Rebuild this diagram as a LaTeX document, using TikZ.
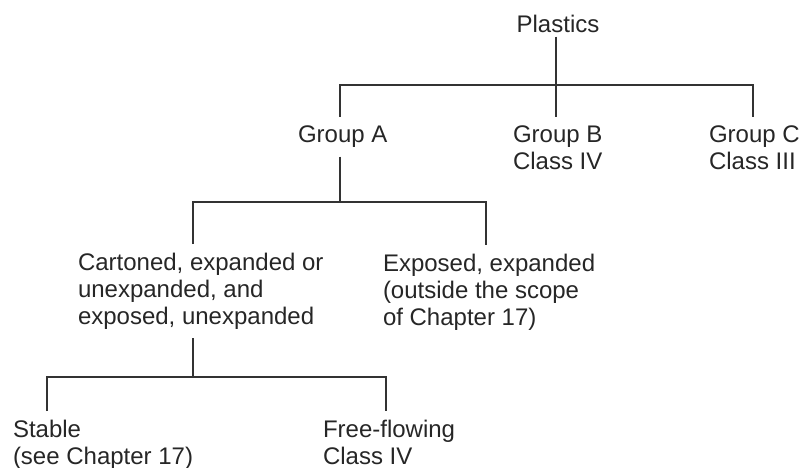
\documentclass[tikz,border=0pt]{standalone}
\usepackage{fontspec}
\setmainfont{Liberation Sans}
\begin{document}
\begin{tikzpicture}[x=1pt, y=-1pt,
    every node/.style={font=\fontsize{24}{27}\selectfont, text=black!85, align=left,
      inner sep=0pt, outer xsep=0pt, outer ysep=9pt},
    branch/.style={line width=1.6pt, draw=black!80}]
    \useasboundingbox (0,0) rectangle (811,468);

    % Nodes
    \node[anchor=north, outer ysep=4pt] (plastics) at (558,11) {Plastics};
    \node[anchor=north west] (groupA) at (298,117) {Group A};
    \node[anchor=north west] (groupB) at (513,117) {Group B\\Class IV};
    \node[anchor=north west] (groupC) at (709,117) {Group C\\Class III};
    \node[anchor=north west] (cartoned) at (78,244) {Cartoned, expanded or\\unexpanded, and\\exposed, unexpanded};
    \node[anchor=north west] (exposed) at (383,245) {Exposed, expanded\\(outside the scope\\of Chapter 17)};
    \node[anchor=north west] (stable) at (13,411) {Stable\\(see Chapter 17)};
    \node[anchor=north west] (freeflow) at (323,411) {Free-flowing\\Class IV};

    % Joints
    \coordinate (j0) at (556,85);
    \coordinate (jA) at (340,85);
    \coordinate (jC) at (753,85);
    \coordinate (j1) at (340,202);
    \coordinate (jCart) at (193,202);
    \coordinate (jExp) at (486,202);
    \coordinate (j2) at (193,377);
    \coordinate (jStab) at (47,377);
    \coordinate (jFree) at (386,377);

    % Branches
    \draw[branch] (j0 |- plastics.south) -- (j0);
    \draw[branch] (jA |- groupA.north) -- (jA) -- (jC) -- (jC |- groupC.north);
    \draw[branch] (j0) -- (j0 |- groupB.north);
    \draw[branch] (j1 |- groupA.south) -- (j1);
    \draw[branch] (jCart |- cartoned.north) -- (jCart) -- (jExp) -- (jExp |- exposed.north);
    \draw[branch] (j2 |- cartoned.south) -- (j2);
    \draw[branch] (jStab |- stable.north) -- (jStab) -- (jFree) -- (jFree |- freeflow.north);
\end{tikzpicture}
\end{document}
